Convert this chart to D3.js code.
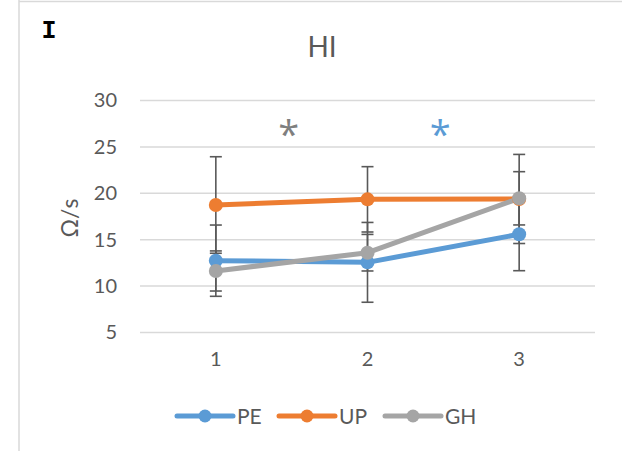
<!DOCTYPE html>
<html>
<head>
<meta charset="utf-8">
<script src="https://cdn.jsdelivr.net/npm/d3@7"></script>
<style>
  body { margin: 0; background: #fff; }
  text { font-family: Lato, "Open Sans", sans-serif; }
</style>
</head>
<body>
<div id="chart"></div>
<script>
// data
var categories = ["1", "2", "3"];
var seriesNames = ["PE", "UP", "GH"];
var seriesColors = ["#5B9BD5", "#ED7D31", "#A5A5A5"];
var peValues = [12.74, 12.56, 15.58];
var peErrors = [3.84, 4.3, 3.92];
var upValues = [18.74, 19.35, 19.39];
var upErrors = [5.2, 3.52, 4.8];
var ghValues = [11.63, 13.6, 19.46];
var ghErrors = [2.16, 1.97, 2.87];
var yTicks = [5, 10, 15, 20, 25, 30];
var stars = [{ pos: 1.5, color: "#7F7F7F" }, { pos: 2.5, color: "#5B9BD5" }];

var series = [
  { name: seriesNames[0], color: seriesColors[0], values: peValues, errors: peErrors },
  { name: seriesNames[1], color: seriesColors[1], values: upValues, errors: upErrors },
  { name: seriesNames[2], color: seriesColors[2], values: ghValues, errors: ghErrors }
];

var svg = d3.select("#chart").append("svg")
    .attr("width", 622)
    .attr("height", 451);

// frame lines
svg.append("line").attr("x1", 19).attr("x2", 19).attr("y1", 0).attr("y2", 451)
    .attr("stroke", "#d9d9d9").attr("stroke-width", 1.5);
svg.append("line").attr("x1", 19).attr("x2", 622).attr("y1", 1.5).attr("y2", 1.5)
    .attr("stroke", "#d9d9d9").attr("stroke-width", 1.5);

var margin = { top: 100.5, left: 140, right: 27, bottom: 118.5 },
    width = 622 - margin.left - margin.right,
    height = 451 - margin.top - margin.bottom;

var g = svg.append("g").attr("transform", "translate(" + margin.left + "," + margin.top + ")");

var x = d3.scaleBand().domain(categories).range([0, width]);
var y = d3.scaleLinear().domain([5, 30]).range([height, 0]);
var xc = function (i) { return x(categories[i]) + x.bandwidth() / 2; };

// gridlines
g.append("g").selectAll("line").data(yTicks).enter().append("line")
    .attr("x1", 0).attr("x2", width)
    .attr("y1", function (d) { return y(d); })
    .attr("y2", function (d) { return y(d); })
    .attr("stroke", "#d9d9d9").attr("stroke-width", 1.5);

// y axis
var yAxis = g.append("g").call(d3.axisLeft(y).tickValues(yTicks).tickSize(0).tickPadding(23));
yAxis.select(".domain").remove();
yAxis.selectAll("text").attr("fill", "#595959").style("font-size", "20px")
    .style("font-family", "Lato, sans-serif");

// x axis
var xAxis = g.append("g").attr("transform", "translate(0," + height + ")")
    .call(d3.axisBottom(x).tickSize(0).tickPadding(19));
xAxis.select(".domain").remove();
xAxis.selectAll("text").attr("fill", "#595959").style("font-size", "20px")
    .style("font-family", "Lato, sans-serif");

// axis title
svg.append("text")
    .attr("transform", "translate(78,218) rotate(-90)")
    .attr("text-anchor", "middle")
    .attr("fill", "#595959")
    .style("font-size", "23px")
    .text("Ω/s");

// chart title
svg.append("text")
    .attr("x", 322).attr("y", 57)
    .attr("text-anchor", "middle")
    .attr("fill", "#595959")
    .style("font-size", "28px")
    .text("HI");

// panel letter
svg.append("text")
    .attr("x", 49).attr("y", 38)
    .attr("text-anchor", "middle")
    .attr("fill", "#000")
    .style("font-family", "'Liberation Mono', 'DejaVu Sans Mono', monospace")
    .style("font-weight", "bold")
    .style("font-size", "25px")
    .text("I");

// significance stars
g.selectAll("text.star").data(stars).enter().append("text")
    .attr("class", "star")
    .attr("x", function (d) { return x.step() * (d.pos - 0.5) - 3; })
    .attr("y", 47)
    .attr("text-anchor", "middle")
    .attr("fill", function (d) { return d.color; })
    .style("font-family", "'Open Sans', sans-serif")
    .style("font-size", "38px")
    .text("*");

var line = d3.line()
    .x(function (d, i) { return xc(i); })
    .y(function (d) { return y(d); });

// lines
series.forEach(function (s) {
  g.append("path")
      .datum(s.values)
      .attr("d", line)
      .attr("fill", "none")
      .attr("stroke", s.color)
      .attr("stroke-width", 5)
      .attr("stroke-linejoin", "round");
});

// error bars
series.forEach(function (s) {
  var eb = g.append("g").selectAll("g").data(s.values).enter().append("g");
  eb.append("line")
      .attr("x1", function (d, i) { return xc(i); })
      .attr("x2", function (d, i) { return xc(i); })
      .attr("y1", function (d, i) { return y(d + s.errors[i]); })
      .attr("y2", function (d, i) { return y(d - s.errors[i]); })
      .attr("stroke", "#595959").attr("stroke-width", 1.6);
  [1, -1].forEach(function (sign) {
    eb.append("line")
        .attr("x1", function (d, i) { return xc(i) - 6; })
        .attr("x2", function (d, i) { return xc(i) + 6; })
        .attr("y1", function (d, i) { return y(d + sign * s.errors[i]); })
        .attr("y2", function (d, i) { return y(d + sign * s.errors[i]); })
        .attr("stroke", "#595959").attr("stroke-width", 1.6);
  });
});

// markers
series.forEach(function (s) {
  g.append("g").selectAll("circle").data(s.values).enter().append("circle")
      .attr("cx", function (d, i) { return xc(i); })
      .attr("cy", function (d) { return y(d); })
      .attr("r", 7)
      .attr("fill", s.color);
});

// legend
var legendX = [177, 279, 385];
var legend = svg.append("g").selectAll("g").data(series).enter().append("g")
    .attr("transform", function (d, i) { return "translate(" + legendX[i] + ",416)"; });
legend.append("line")
    .attr("x1", 0).attr("x2", 56).attr("y1", 0).attr("y2", 0)
    .attr("stroke", function (d) { return d.color; })
    .attr("stroke-width", 5).attr("stroke-linecap", "round");
legend.append("circle")
    .attr("cx", 28).attr("cy", 0).attr("r", 6.5)
    .attr("fill", function (d) { return d.color; });
legend.append("text")
    .attr("x", 60).attr("y", 7.5)
    .attr("fill", "#595959")
    .style("font-size", "21px")
    .text(function (d) { return d.name; });
</script>
</body>
</html>
